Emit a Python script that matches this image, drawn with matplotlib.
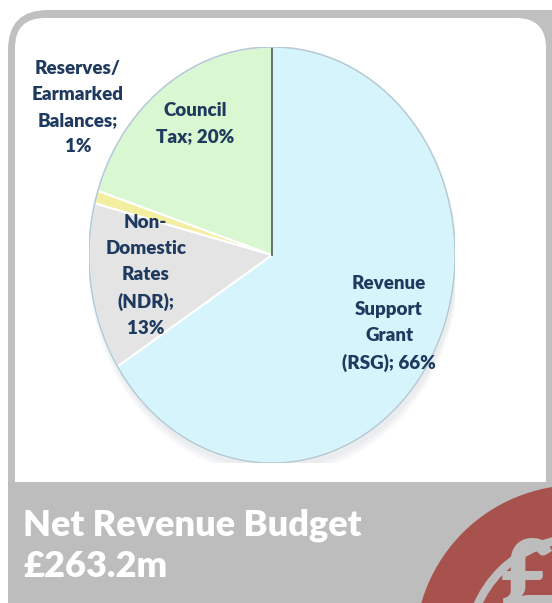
import numpy as np
import matplotlib.pyplot as plt
from matplotlib.patches import FancyBboxPatch, Rectangle, Circle, Ellipse

# data
labels = ["Revenue\nSupport\nGrant\n(RSG); 66%",
          "Non-\nDomestic\nRates\n(NDR);\n13%",
          "Reserves/\nEarmarked\nBalances;\n1%",
          "Council\nTax; 20%"]
shares = [66, 13, 1, 20]
colors = ["#d6f4fb", "#e4e4e4", "#f4eea0", "#d9f7d0"]
title_lines = ["Net Revenue Budget", "£263.2m"]

# label placement (data units of the pie axes)
label_xy = [(0.64, -0.33), (-0.69, -0.10), (-1.06, 0.71), (-0.42, 0.63)]

FONT = ['Lato', 'DejaVu Sans']
W, H = 552, 603
fig = plt.figure(figsize=(W / 100, H / 100), dpi=100)

# background in pixel coordinates
bg = fig.add_axes([0, 0, 1, 1])
bg.set_xlim(0, W)
bg.set_ylim(H, 0)
bg.axis('off')

bg.add_patch(FancyBboxPatch((8 + 40, 10 + 40), 600 - 80, 700, boxstyle="round,pad=40",
                            fc="#c0c0c0", ec="none"))
bg.add_patch(FancyBboxPatch((15 + 30, 18 + 30), 531 - 60, 520 - 60, boxstyle="round,pad=30",
                            fc="white", ec="none"))
bg.add_patch(Rectangle((8, 482), 600, 130, fc="#bdbdbd", ec="none"))

# red badge with pound sign
bg.add_patch(Circle((578, 648), 163, fc="#a8524e", ec="none"))
bg.add_patch(Circle((580, 650), 112, fc="none", ec="#bdbdbd", lw=6))
bg.text(501, 607, "£", color="#bdbdbd", fontsize=66, fontweight='heavy',
        family=FONT, ha='left', va='baseline', clip_on=True)

bg.text(23, 536, title_lines[0], color="white", fontsize=26, fontweight='heavy',
        family=FONT, ha='left', va='baseline')
bg.text(23, 577, title_lines[1], color="white", fontsize=26, fontweight='heavy',
        family=FONT, ha='left', va='baseline')

# pie axes (slightly taller than wide, as in the reference)
cx, cy, rx, ry = 272, 255, 183, 208
ax = fig.add_axes([(cx - rx) / W, (H - cy - ry) / H, 2 * rx / W, 2 * ry / H])

# soft shadow
for i, a in enumerate([0.05, 0.05, 0.06]):
    ax.add_patch(Ellipse((0.01, -0.03 - 0.01 * i), 2.0 + 0.01 * i, 2.0 + 0.01 * i,
                         fc="#7a8a99", ec="none", alpha=a, zorder=0))

wedges, _ = ax.pie(shares, colors=colors, startangle=90, counterclock=False,
                   radius=1.0, center=(0, 0), frame=False,
                   wedgeprops=dict(edgecolor="white", linewidth=1.5))
ax.set_xlim(-1, 1)
ax.set_ylim(-1, 1)
ax.set_aspect('auto')
ax.axis('off')

# dark divider between council tax and RSG
t = np.deg2rad(wedges[0].theta2)
ax.plot([0, np.cos(t)], [0, np.sin(t)], color="#55665e", lw=1.3, zorder=4)

# rim to give a bit of depth
ax.add_patch(Ellipse((0, 0), 2.0, 2.0, fc="none", ec="#b3cbd6", lw=1.2, zorder=5))

for lab, (x, y) in zip(labels, label_xy):
    ax.text(x, y, lab, ha='center', va='center', color="#1f3a5f", fontsize=13.5,
            fontweight='heavy', linespacing=1.65, family=FONT, zorder=6)

fig.savefig("out.png", dpi=100)
